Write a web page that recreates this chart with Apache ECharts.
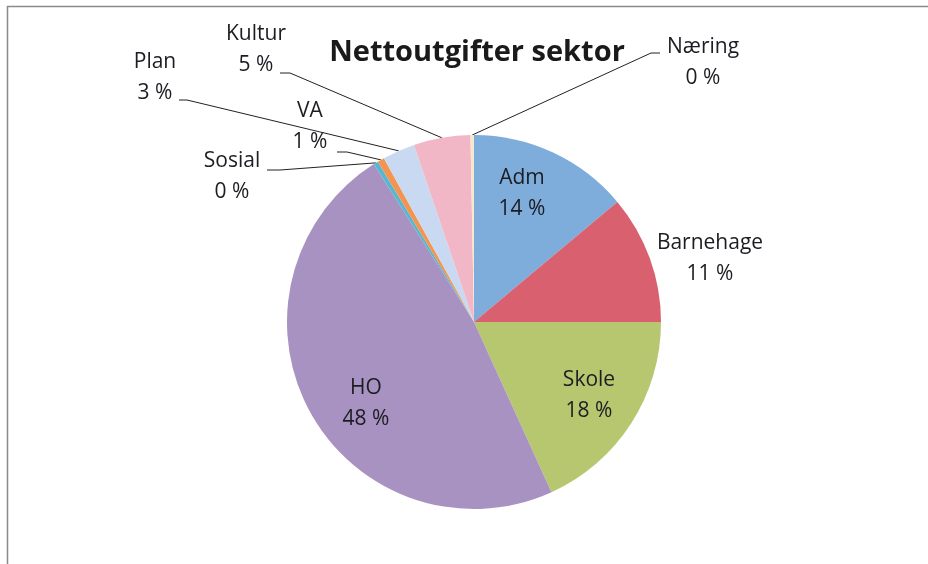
<!DOCTYPE html>
<html><head><meta charset="utf-8">
<script src="https://cdn.jsdelivr.net/npm/echarts@6/dist/echarts.min.js"></script>
<style>html,body{margin:0;padding:0;background:#fff}#c{width:928px;height:564px}</style>
</head><body><div id="c"></div>
<script>
// ---- data ----
const categories = ['Adm', 'Barnehage', 'Skole', 'HO', 'Sosial', 'VA', 'Plan', 'Kultur', 'Næring'];
const values = [13.9, 11.1, 18.2, 47.8, 0.4, 0.6, 2.8, 4.9, 0.3];
const titleText = 'Nettoutgifter sektor';

// ---- styling / layout config ----
const sliceColors = ['#7eaddc', '#d9606e', '#b6c76f', '#a892c1', '#55b7d2', '#f39550', '#c9d9f1', '#f2b7c6', '#f6e8cc'];
const labelCenters = [[522, 194], [710, 259], [589, 396], [366, 404], [232, 177], [310, 127], [155, 78], [256, 50], [703, 63]];
const leaderEnds = [null, null, null, null,
  [[280, 170], [267, 170]],
  [[347, 152], [337, 152]],
  [[187, 100], [179, 100]],
  [[290, 73], [280, 73]],
  [[651, 53], [660, 53]]];

const chart = echarts.init(document.getElementById('c'), null, {renderer: 'canvas'});
const total = values.reduce((a, b) => a + b, 0);
const dataItems = categories.map((n, i) => ({
  name: n,
  value: values[i],
  itemStyle: {color: sliceColors[i]},
  labelLine: {show: leaderEnds[i] !== null}
}));

chart.setOption({
  animation: false,
  backgroundColor: '#fff',
  title: {
    text: titleText, left: 472, top: 33, textAlign: 'center',
    textStyle: {fontFamily: 'Open Sans', fontWeight: 'bold', fontSize: 29, color: '#1a1a1a'}
  },
  graphic: [
    {type: 'line', shape: {x1: 7, y1: 6.5, x2: 928, y2: 6.5}, style: {stroke: '#8a8a8a', lineWidth: 1.5}},
    {type: 'line', shape: {x1: 7.5, y1: 6, x2: 7.5, y2: 564}, style: {stroke: '#8a8a8a', lineWidth: 1.5}}
  ],
  series: [{
    type: 'pie',
    center: [474, 322],
    radius: 187,
    startAngle: 90,
    clockwise: true,
    avoidLabelOverlap: false,
    data: dataItems,
    itemStyle: {borderWidth: 0},
    label: {
      show: true,
      position: 'outside',
      fontFamily: 'Open Sans',
      fontSize: 21,
      lineHeight: 31,
      color: '#1c1c22',
      formatter: p => p.name + '\n' + Math.round(p.value / total * 100) + ' %'
    },
    labelLine: {show: true, length: 10, length2: 10, lineStyle: {color: '#222', width: 1}},
    labelLayout: function (params) {
      const i = params.dataIndex;
      const c = labelCenters[i];
      const res = {x: c[0], y: c[1], align: 'center', verticalAlign: 'middle'};
      if (leaderEnds[i] && params.labelLinePoints) {
        res.labelLinePoints = [params.labelLinePoints[0], leaderEnds[i][0], leaderEnds[i][1]];
      }
      return res;
    }
  }]
});
</script>
</body></html>
